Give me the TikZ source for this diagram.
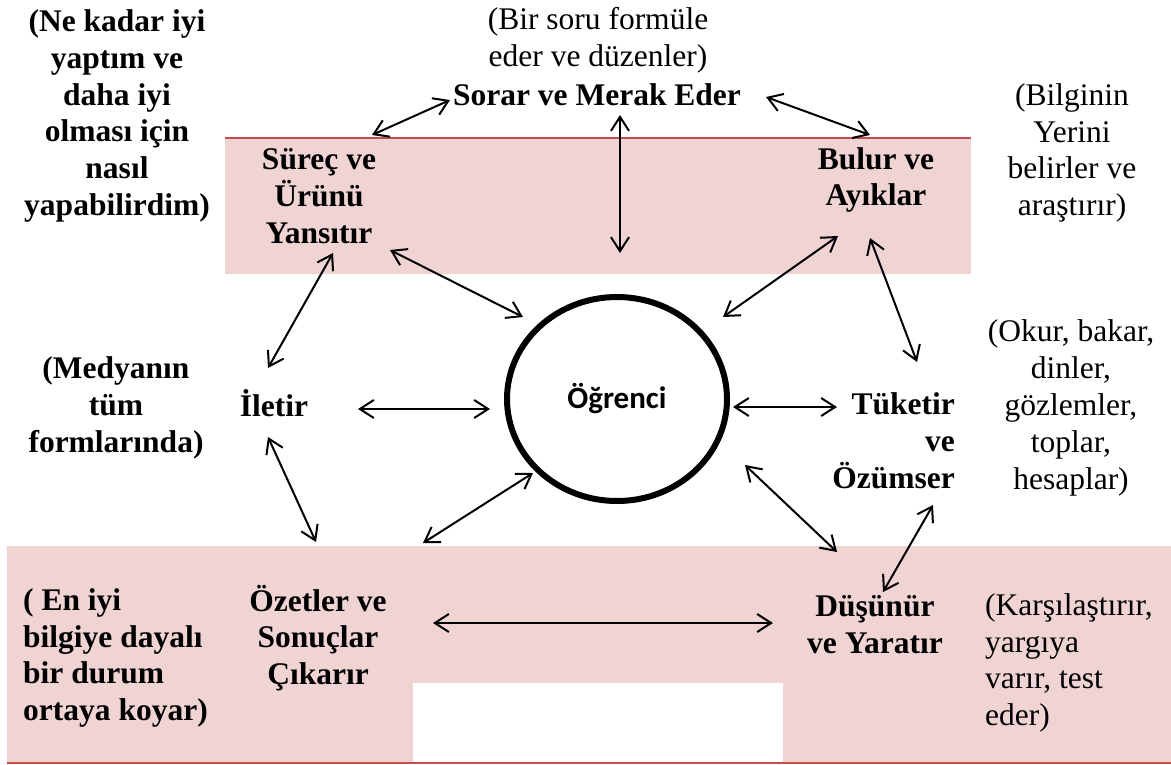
\documentclass[tikz,border=0pt]{standalone}
\usepackage{fontspec}
\setmainfont{Liberation Serif}
\newfontfamily\calibrifont{Carlito}
\usetikzlibrary{arrows.meta,shapes.geometric}
\definecolor{bandpink}{RGB}{240,212,212}
\definecolor{bandred}{RGB}{192,80,77}
\begin{document}
\begin{tikzpicture}[x=1pt,y=-1pt,
  lbl/.style={inner sep=0pt, font=\fontsize{31.5}{36.8}\selectfont\bfseries, align=center},
  note/.style={inner sep=0pt, font=\fontsize{31.5}{36.8}\selectfont, align=center},
  conn/.style={{Straight Barb[length=14pt,width=18pt]}-{Straight Barb[length=14pt,width=18pt]}, line width=2pt},
]
\useasboundingbox (0,0) rectangle (1171,764);
% bands
\fill[bandpink] (225,138) rectangle (971,274);
\draw[bandred, line width=2.5pt] (225,138) -- (971,138);
\fill[bandpink] (7,546) rectangle (1171,764);
\fill[white] (413,683) rectangle (783,764);
\draw[bandred, line width=2pt] (7,763) -- (1171,763);
% nodes
\node[lbl] (left) at (117,116) {(Ne kadar iyi\\yaptım ve\\daha iyi\\olması için\\nasıl\\yapabilirdim)};
\node[note] (topq) at (598,40) {(Bir soru formüle\\eder ve düzenler)};
\node[lbl] (sorar) at (597,95) {Sorar ve Merak Eder};
\node[note] (bilgi) at (1072,153) {(Bilginin\\Yerini\\belirler ve\\araştırır)};
\node[lbl] (surec) at (319,196) {Süreç ve\\Ürünü\\Yansıtır};
\node[lbl] (bulur) at (876,180) {Bulur ve\\Ayıklar};
\node[ellipse, draw, line width=6pt, minimum width=220pt, minimum height=204pt, inner sep=0pt,
      font=\calibrifont\bfseries\fontsize{31}{36}\selectfont] (stu) at (617,399) {Öğrenci};
\node[lbl] (iletir) at (274,403) {İletir};
\node[lbl] (medya) at (116,408) {(Medyanın\\tüm\\formlarında)};
\node[lbl, align=right, anchor=east] (tuk) at (955,441) {Tüketir\\ve\\Özümser};
\node[note] (okur) at (1071,408) {(Okur, bakar,\\dinler,\\gözlemler,\\toplar,\\hesaplar)};
\node[lbl, align=left, anchor=west] (eniyi) at (23,658) {( En iyi\\bilgiye dayalı\\bir durum\\ortaya koyar)};
\node[lbl] (ozet) at (318,638) {Özetler ve\\Sonuçlar\\Çıkarır};
\node[lbl] (dusun) at (875,625) {Düşünür\\ve Yaratır};
\node[note, align=left, anchor=west] (karsi) at (985,663) {(Karşılaştırır,\\yargıya\\varır, test\\eder)};
% connectors
\draw[conn] ([shift={(53,-61)}]surec.center) -- ([shift={(-147,5)}]sorar.center);
\draw[conn] ([shift={(169,2)}]sorar.center) -- ([shift={(-6,-45)}]bulur.center);
\draw[conn] ([shift={(23,20)}]sorar.center) -- ([shift={(3,-146)}]stu.center);
\draw[conn] ([shift={(71,54)}]surec.center) -- ([shift={(-94,-82)}]stu.center);
\draw[conn] ([shift={(-38,56)}]bulur.center) -- ([shift={(106,-82)}]stu.center);
\draw[conn] ([shift={(-6,58)}]bulur.center) -- ([shift={(-38,-79)}]tuk.east);
\draw[conn] ([shift={(14,57)}]surec.center) -- ([shift={(-6,-35)}]iletir.center);
\draw[conn] ([shift={(84,6)}]iletir.center) -- ([shift={(-127,10)}]stu.center);
\draw[conn] ([shift={(116,8)}]stu.center) -- ([shift={(-118,-34)}]tuk.east);
\draw[conn] ([shift={(-6,34)}]iletir.center) -- ([shift={(-2,-96)}]ozet.center);
\draw[conn] ([shift={(-84,74)}]stu.center) -- ([shift={(105,-95)}]ozet.center);
\draw[conn] ([shift={(128,66)}]stu.center) -- ([shift={(-38,-73)}]dusun.center);
\draw[conn] ([shift={(-22,64)}]tuk.east) -- ([shift={(8,-33)}]dusun.center);
\draw[conn] ([shift={(115,-15)}]ozet.center) -- ([shift={(-102,-2)}]dusun.center);
\end{tikzpicture}
\end{document}
